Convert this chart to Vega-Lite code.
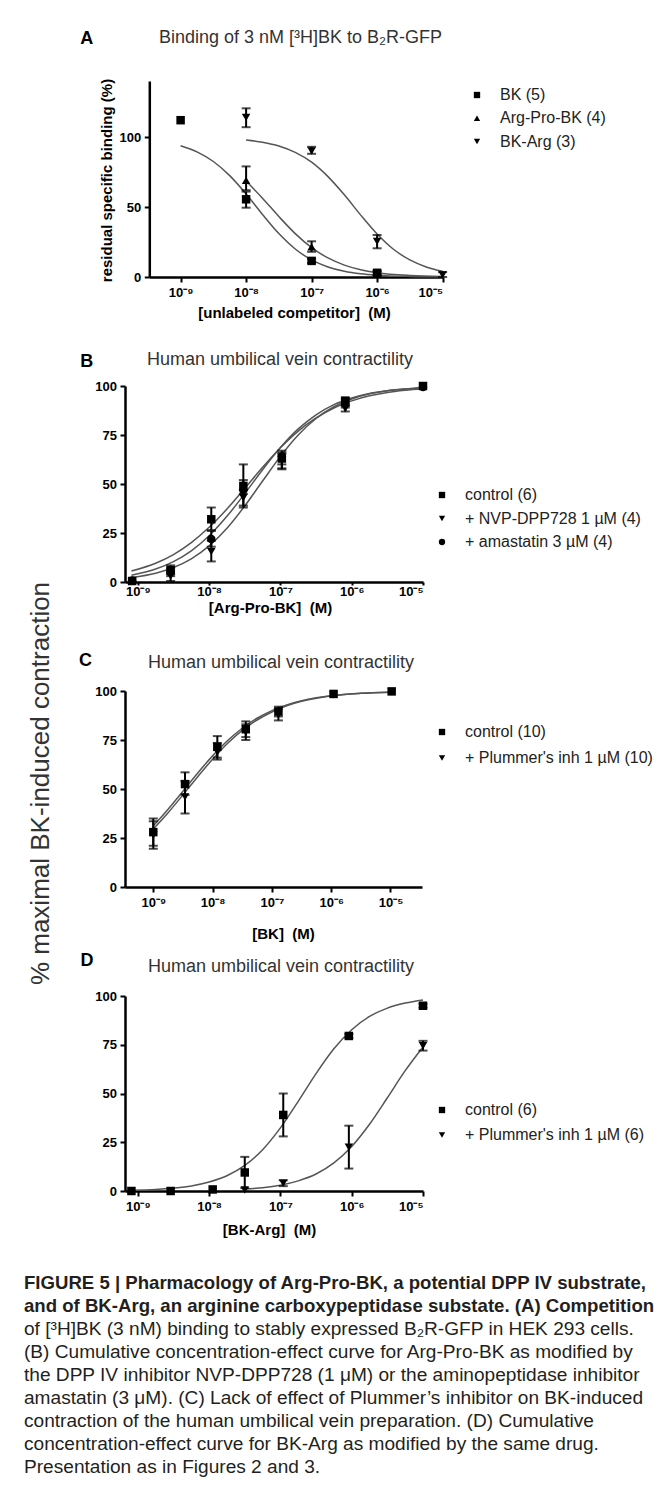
{
  "$schema": "https://vega.github.io/schema/vega-lite/v6.json",
  "background": "white",
  "padding": {"left": 24, "top": 29, "right": 5, "bottom": 5},
  "bounds": "flush",
  "spacing": 109,
  "resolve": {"scale": {"shape": "independent"}, "legend": {"shape": "independent"}},
  "config": {
    "font": "Liberation Sans",
    "view": {"stroke": null},
    "axis": {"grid": false, "labelOverlap": false, "domainColor": "black", "domainWidth": 2.5, "tickColor": "black", "tickWidth": 2, "tickSize": 5, "labelFont": "Liberation Sans", "labelFontWeight": "bold", "labelFontSize": 13, "labelColor": "black", "labelPadding": 3.5, "titleFont": "Liberation Sans", "titleFontWeight": "bold", "titleFontSize": 15, "titleColor": "black"},
    "axisX": {"tickSize": 5, "labelPadding": 4.5, "titleBaseline": "middle"},
    "legend": {"orient": "none", "title": null, "labelFont": "Liberation Sans", "labelFontSize": 16, "labelColor": "#222", "labelLimit": 400, "symbolSize": 40, "symbolFillColor": "black", "symbolStrokeWidth": 0, "labelOffset": 15, "rowPadding": 7.5},
    "title": {"anchor": "start", "frame": "group", "font": "Liberation Sans", "fontSize": 18, "fontWeight": "normal", "color": "#333"}
  },
  "title": {
    "text": ["FIGURE 5 | Pharmacology of Arg-Pro-BK, a potential DPP IV substrate,", "and of BK-Arg, an arginine carboxypeptidase substate. (A) Competition"],
    "subtitle": ["of [³H]BK (3 nM) binding to stably expressed B₂R-GFP in HEK 293 cells.", "(B) Cumulative concentration-effect curve for Arg-Pro-BK as modified by", "the DPP IV inhibitor NVP-DPP728 (1 μM) or the aminopeptidase inhibitor", "amastatin (3 μM). (C) Lack of effect of Plummer’s inhibitor on BK-induced", "contraction of the human umbilical vein preparation. (D) Cumulative", "concentration-effect curve for BK-Arg as modified by the same drug.", "Presentation as in Figures 2 and 3."],
    "orient": "bottom", "anchor": "start", "frame": "bounds", "dx": -3, "offset": 37,
    "font": "Liberation Sans", "fontSize": 18.6, "fontWeight": "bold", "lineHeight": 23, "color": "#231f20",
    "subtitleFont": "Liberation Sans", "subtitleFontSize": 19.1, "subtitleFontWeight": "normal", "subtitleLineHeight": 23, "subtitleColor": "#231f20", "subtitlePadding": 4
  },
  "datasets": {
    "ptsA": [
      {"series": "BK (5)", "x": 1e-9, "y": 112},
      {"series": "BK (5)", "x": 1e-8, "y": 55.5, "lo": 49.5, "hi": 61},
      {"series": "BK (5)", "x": 1e-7, "y": 11.5, "lo": 10, "hi": 13},
      {"series": "BK (5)", "x": 1e-6, "y": 3, "lo": 1.5, "hi": 4.5},
      {"series": "Arg-Pro-BK (4)", "x": 1e-8, "y": 69, "lo": 62, "hi": 79},
      {"series": "Arg-Pro-BK (4)", "x": 1e-7, "y": 21.5, "lo": 18, "hi": 25.5},
      {"series": "Arg-Pro-BK (4)", "x": 1e-6, "y": 2.5, "lo": 1, "hi": 4},
      {"series": "BK-Arg (3)", "x": 1e-8, "y": 114, "lo": 107, "hi": 120.5},
      {"series": "BK-Arg (3)", "x": 1e-7, "y": 90, "lo": 88, "hi": 93},
      {"series": "BK-Arg (3)", "x": 1e-6, "y": 25.5, "lo": 20.5, "hi": 30},
      {"series": "BK-Arg (3)", "x": 1e-5, "y": 1.5, "lo": 0, "hi": 3.5}
    ],
    "curvesA": [
      {"series": "BK", "x": 1e-9, "y": 93.8}, {"series": "BK", "x": 1.778e-9, "y": 89.4}, {"series": "BK", "x": 3.162e-9, "y": 82.5}, {"series": "BK", "x": 5.623e-9, "y": 72.4}, {"series": "BK", "x": 1e-8, "y": 59.3}, {"series": "BK", "x": 1.778e-8, "y": 44.7}, {"series": "BK", "x": 3.162e-8, "y": 31.0}, {"series": "BK", "x": 5.623e-8, "y": 20.0}, {"series": "BK", "x": 1e-7, "y": 12.2}, {"series": "BK", "x": 1.778e-7, "y": 7.2}, {"series": "BK", "x": 3.162e-7, "y": 4.1}, {"series": "BK", "x": 5.623e-7, "y": 2.3}, {"series": "BK", "x": 1e-6, "y": 1.3}, {"series": "BK", "x": 3.162e-6, "y": 0.4}, {"series": "BK", "x": 1e-5, "y": 0.1},
      {"series": "APB", "x": 1e-8, "y": 68.5}, {"series": "APB", "x": 1.778e-8, "y": 56.3}, {"series": "APB", "x": 3.162e-8, "y": 43.2}, {"series": "APB", "x": 5.623e-8, "y": 31.0}, {"series": "APB", "x": 1e-7, "y": 21.0}, {"series": "APB", "x": 1.778e-7, "y": 13.6}, {"series": "APB", "x": 3.162e-7, "y": 8.5}, {"series": "APB", "x": 5.623e-7, "y": 5.2}, {"series": "APB", "x": 1e-6, "y": 3.1}, {"series": "APB", "x": 3.162e-6, "y": 1.1}, {"series": "APB", "x": 1e-5, "y": 0.4},
      {"series": "BKA", "x": 1e-8, "y": 97.9}, {"series": "BKA", "x": 1.778e-8, "y": 96.3}, {"series": "BKA", "x": 3.162e-8, "y": 93.6}, {"series": "BKA", "x": 5.623e-8, "y": 89.0}, {"series": "BKA", "x": 1e-7, "y": 82.0}, {"series": "BKA", "x": 1.778e-7, "y": 71.7}, {"series": "BKA", "x": 3.162e-7, "y": 58.7}, {"series": "BKA", "x": 5.623e-7, "y": 44.2}, {"series": "BKA", "x": 1e-6, "y": 30.7}, {"series": "BKA", "x": 1.778e-6, "y": 19.8}, {"series": "BKA", "x": 3.162e-6, "y": 12.2}, {"series": "BKA", "x": 5.623e-6, "y": 7.2}, {"series": "BKA", "x": 1e-5, "y": 4.1}
    ],
    "ptsB": [
      {"series": "control  (6)", "x": 8.318e-10, "y": 0.5},
      {"series": "control  (6)", "x": 2.884e-9, "y": 6, "lo": 4, "hi": 8.5},
      {"series": "control  (6)", "x": 1.072e-8, "y": 32, "lo": 26.5, "hi": 38},
      {"series": "control  (6)", "x": 3.02e-8, "y": 49, "lo": 45, "hi": 52},
      {"series": "control  (6)", "x": 1.047e-7, "y": 63, "lo": 58, "hi": 66},
      {"series": "control  (6)", "x": 8.128e-7, "y": 92.5, "lo": 90, "hi": 94},
      {"series": "control  (6)", "x": 1e-5, "y": 100},
      {"series": "+ NVP-DPP728 1 µM (4)", "x": 8.318e-10, "y": 0.3},
      {"series": "+ NVP-DPP728 1 µM (4)", "x": 2.884e-9, "y": 3, "lo": 0.5, "hi": 5.5},
      {"series": "+ NVP-DPP728 1 µM (4)", "x": 1.072e-8, "y": 15.5, "lo": 10.5, "hi": 21},
      {"series": "+ NVP-DPP728 1 µM (4)", "x": 3.02e-8, "y": 43, "lo": 39, "hi": 47},
      {"series": "+ NVP-DPP728 1 µM (4)", "x": 1.047e-7, "y": 62, "lo": 57.5, "hi": 65.5},
      {"series": "+ NVP-DPP728 1 µM (4)", "x": 8.128e-7, "y": 88.5, "lo": 87, "hi": 90},
      {"series": "+ NVP-DPP728 1 µM (4)", "x": 1e-5, "y": 100},
      {"series": "+ amastatin 3 µM (4)", "x": 8.318e-10, "y": 0.8},
      {"series": "+ amastatin 3 µM (4)", "x": 2.884e-9, "y": 5, "lo": 3, "hi": 7},
      {"series": "+ amastatin 3 µM (4)", "x": 1.072e-8, "y": 22, "lo": 18, "hi": 26},
      {"series": "+ amastatin 3 µM (4)", "x": 3.02e-8, "y": 47, "lo": 38, "hi": 60},
      {"series": "+ amastatin 3 µM (4)", "x": 1.047e-7, "y": 64, "lo": 60, "hi": 67},
      {"series": "+ amastatin 3 µM (4)", "x": 8.128e-7, "y": 91, "lo": 89, "hi": 93},
      {"series": "+ amastatin 3 µM (4)", "x": 1e-5, "y": 99.5}
    ],
    "curvesB": [
      {"series": "c", "x": 8.128e-10, "y": 5.6}, {"series": "c", "x": 1.778e-9, "y": 9.6}, {"series": "c", "x": 3.162e-9, "y": 14.0}, {"series": "c", "x": 5.623e-9, "y": 20.1}, {"series": "c", "x": 1e-8, "y": 27.9}, {"series": "c", "x": 1.778e-8, "y": 37.3}, {"series": "c", "x": 3.162e-8, "y": 47.8}, {"series": "c", "x": 5.623e-8, "y": 58.5}, {"series": "c", "x": 1e-7, "y": 68.5}, {"series": "c", "x": 1.778e-7, "y": 77.0}, {"series": "c", "x": 3.162e-7, "y": 83.7}, {"series": "c", "x": 5.623e-7, "y": 88.8}, {"series": "c", "x": 1e-6, "y": 92.4}, {"series": "c", "x": 1.778e-6, "y": 95.0}, {"series": "c", "x": 3.162e-6, "y": 96.7}, {"series": "c", "x": 5.623e-6, "y": 97.8}, {"series": "c", "x": 1e-5, "y": 98.6},
      {"series": "a", "x": 8.128e-10, "y": 3.5}, {"series": "a", "x": 1.778e-9, "y": 6.6}, {"series": "a", "x": 3.162e-9, "y": 10.4}, {"series": "a", "x": 5.623e-9, "y": 15.9}, {"series": "a", "x": 1e-8, "y": 23.6}, {"series": "a", "x": 1.778e-8, "y": 33.5}, {"series": "a", "x": 3.162e-8, "y": 45.1}, {"series": "a", "x": 5.623e-8, "y": 57.3}, {"series": "a", "x": 1e-7, "y": 68.6}, {"series": "a", "x": 1.778e-7, "y": 78.1}, {"series": "a", "x": 3.162e-7, "y": 85.3}, {"series": "a", "x": 5.623e-7, "y": 90.5}, {"series": "a", "x": 1e-6, "y": 93.9}, {"series": "a", "x": 1.778e-6, "y": 96.2}, {"series": "a", "x": 3.162e-6, "y": 97.6}, {"series": "a", "x": 5.623e-6, "y": 98.5}, {"series": "a", "x": 1e-5, "y": 99.1},
      {"series": "n", "x": 8.128e-10, "y": 2.3}, {"series": "n", "x": 1.778e-9, "y": 4.5}, {"series": "n", "x": 3.162e-9, "y": 7.4}, {"series": "n", "x": 5.623e-9, "y": 11.8}, {"series": "n", "x": 1e-8, "y": 18.4}, {"series": "n", "x": 1.778e-8, "y": 27.4}, {"series": "n", "x": 3.162e-8, "y": 38.8}, {"series": "n", "x": 5.623e-8, "y": 51.5}, {"series": "n", "x": 1e-7, "y": 64.1}, {"series": "n", "x": 1.778e-7, "y": 75.0}, {"series": "n", "x": 3.162e-7, "y": 83.4}, {"series": "n", "x": 5.623e-7, "y": 89.4}, {"series": "n", "x": 1e-6, "y": 93.4}, {"series": "n", "x": 1.778e-6, "y": 96.0}, {"series": "n", "x": 3.162e-6, "y": 97.6}, {"series": "n", "x": 5.623e-6, "y": 98.5}, {"series": "n", "x": 1e-5, "y": 99.1}
    ],
    "ptsC": [
      {"series": "control  (10)", "x": 1e-9, "y": 28, "lo": 21, "hi": 35},
      {"series": "control  (10)", "x": 3.428e-9, "y": 52.5, "lo": 47, "hi": 58.5},
      {"series": "control  (10)", "x": 1.202e-8, "y": 71.5, "lo": 66, "hi": 77},
      {"series": "control  (10)", "x": 3.631e-8, "y": 80.5, "lo": 76.5, "hi": 84.5},
      {"series": "control  (10)", "x": 1.288e-7, "y": 89.5, "lo": 87, "hi": 92},
      {"series": "control  (10)", "x": 1.096e-6, "y": 98.5},
      {"series": "control  (10)", "x": 1.047e-5, "y": 99.8},
      {"series": "+ Plummer's inh 1 µM (10)", "x": 1e-9, "y": 26.5, "lo": 19.5, "hi": 33.5},
      {"series": "+ Plummer's inh 1 µM (10)", "x": 3.428e-9, "y": 46, "lo": 37.5, "hi": 54},
      {"series": "+ Plummer's inh 1 µM (10)", "x": 1.202e-8, "y": 69, "lo": 65, "hi": 73.5},
      {"series": "+ Plummer's inh 1 µM (10)", "x": 3.631e-8, "y": 79, "lo": 75, "hi": 83},
      {"series": "+ Plummer's inh 1 µM (10)", "x": 1.288e-7, "y": 88, "lo": 85, "hi": 91},
      {"series": "+ Plummer's inh 1 µM (10)", "x": 1.096e-6, "y": 98},
      {"series": "+ Plummer's inh 1 µM (10)", "x": 1.047e-5, "y": 99.6}
    ],
    "curvesC": [
      {"series": "c", "x": 1e-9, "y": 31.2}, {"series": "c", "x": 1.778e-9, "y": 39.7}, {"series": "c", "x": 3.162e-9, "y": 48.9}, {"series": "c", "x": 5.623e-9, "y": 58.2}, {"series": "c", "x": 1e-8, "y": 66.9}, {"series": "c", "x": 1.778e-8, "y": 74.6}, {"series": "c", "x": 3.162e-8, "y": 81.0}, {"series": "c", "x": 5.623e-8, "y": 86.1}, {"series": "c", "x": 1e-7, "y": 90.0}, {"series": "c", "x": 1.778e-7, "y": 92.9}, {"series": "c", "x": 3.162e-7, "y": 95.0}, {"series": "c", "x": 5.623e-7, "y": 96.5}, {"series": "c", "x": 1e-6, "y": 97.6}, {"series": "c", "x": 3.162e-6, "y": 98.8}, {"series": "c", "x": 1e-5, "y": 99.4},
      {"series": "p", "x": 1e-9, "y": 29.6}, {"series": "p", "x": 1.778e-9, "y": 37.9}, {"series": "p", "x": 3.162e-9, "y": 47.0}, {"series": "p", "x": 5.623e-9, "y": 56.3}, {"series": "p", "x": 1e-8, "y": 65.2}, {"series": "p", "x": 1.778e-8, "y": 73.2}, {"series": "p", "x": 3.162e-8, "y": 79.9}, {"series": "p", "x": 5.623e-8, "y": 85.2}, {"series": "p", "x": 1e-7, "y": 89.3}, {"series": "p", "x": 1.778e-7, "y": 92.4}, {"series": "p", "x": 3.162e-7, "y": 94.7}, {"series": "p", "x": 5.623e-7, "y": 96.3}, {"series": "p", "x": 1e-6, "y": 97.4}, {"series": "p", "x": 3.162e-6, "y": 98.8}, {"series": "p", "x": 1e-5, "y": 99.4}
    ],
    "ptsD": [
      {"series": "control  (6)", "x": 8.128e-10, "y": 0},
      {"series": "control  (6)", "x": 2.884e-9, "y": 0},
      {"series": "control  (6)", "x": 1.122e-8, "y": 0.8},
      {"series": "control  (6)", "x": 3.162e-8, "y": 9.5, "lo": 1.5, "hi": 17.5},
      {"series": "control  (6)", "x": 1.096e-7, "y": 39, "lo": 28, "hi": 50},
      {"series": "control  (6)", "x": 9.12e-7, "y": 79.5, "lo": 78.5, "hi": 80.5},
      {"series": "control  (6)", "x": 1e-5, "y": 95, "lo": 94, "hi": 96},
      {"series": "+ Plummer's inh 1 µM (6)", "x": 3.162e-8, "y": 0.5},
      {"series": "+ Plummer's inh 1 µM (6)", "x": 1.096e-7, "y": 4, "lo": 2.5, "hi": 5.5},
      {"series": "+ Plummer's inh 1 µM (6)", "x": 9.12e-7, "y": 22.5, "lo": 11.5, "hi": 33.5},
      {"series": "+ Plummer's inh 1 µM (6)", "x": 1e-5, "y": 74.5, "lo": 72, "hi": 77}
    ],
    "curvesD": [
      {"series": "c", "x": 8.128e-10, "y": 0.4}, {"series": "c", "x": 1.778e-9, "y": 0.8}, {"series": "c", "x": 3.162e-9, "y": 1.5}, {"series": "c", "x": 5.623e-9, "y": 2.6}, {"series": "c", "x": 1e-8, "y": 4.6}, {"series": "c", "x": 1.778e-8, "y": 7.8}, {"series": "c", "x": 3.162e-8, "y": 13.1}, {"series": "c", "x": 5.623e-8, "y": 21.2}, {"series": "c", "x": 1e-7, "y": 32.4}, {"series": "c", "x": 1.778e-7, "y": 46.0}, {"series": "c", "x": 3.162e-7, "y": 60.2}, {"series": "c", "x": 5.623e-7, "y": 72.9}, {"series": "c", "x": 1e-6, "y": 82.7}, {"series": "c", "x": 1.778e-6, "y": 89.5}, {"series": "c", "x": 3.162e-6, "y": 93.8}, {"series": "c", "x": 5.623e-6, "y": 96.4}, {"series": "c", "x": 1e-5, "y": 98.0},
      {"series": "p", "x": 3.162e-8, "y": 1.0}, {"series": "p", "x": 5.623e-8, "y": 1.7}, {"series": "p", "x": 1e-7, "y": 3.0}, {"series": "p", "x": 1.778e-7, "y": 5.2}, {"series": "p", "x": 3.162e-7, "y": 8.7}, {"series": "p", "x": 5.623e-7, "y": 14.4}, {"series": "p", "x": 1e-6, "y": 22.8}, {"series": "p", "x": 1.778e-6, "y": 34.2}, {"series": "p", "x": 3.162e-6, "y": 47.8}, {"series": "p", "x": 5.623e-6, "y": 61.7}, {"series": "p", "x": 1e-5, "y": 73.9}
    ]
  },
  "vconcat": [
    {
      "width": 318, "height": 196,
      "title": {"text": "Binding of 3 nM [³H]BK to B₂R-GFP", "dx": 34, "offset": -18},
      "resolve": {"axis": {"x": "independent"}},
      "layer": [
        {"data": {"name": "curvesA"}, "mark": {"type": "line", "color": "#555", "strokeWidth": 1.5, "interpolate": "monotone"},
         "encoding": {
           "x": {"field": "x", "type": "quantitative", "title": "[unlabeled competitor]\u00a0 (M)", "scale": {"type": "log", "domain": [3.326e-10, 1e-5], "range": [24.3, 317.6], "nice": false},
                 "axis": {"values": [1e-9, 1e-8, 1e-7, 1e-6, 1e-5], "labelExpr": "'10' + ['⁻⁹','⁻⁸','⁻⁷','⁻⁶','⁻⁵'][round(log(datum.value)/LN10)+9]", "titleY": 35, "titleX": 169}},
           "y": {"field": "y", "type": "quantitative", "title": "residual specific binding (%)", "scale": {"domain": [0, 140], "nice": false},
                 "axis": {"values": [0, 25, 50, 75, 100, 125], "offset": -24.3, "titleX": -43, "titleY": 99, "titleBaseline": "middle"}},
           "detail": {"field": "series"}}},
        {"data": {"name": "ptsA"}, "transform": [{"filter": "isValid(datum.lo)"}], "mark": {"type": "rule", "strokeWidth": 2, "color": "black"},
         "encoding": {"x": {"field": "x", "type": "quantitative", "axis": null}, "y": {"field": "lo", "type": "quantitative", "title": "residual specific binding (%)"}, "y2": {"field": "hi"}}},
        {"data": {"name": "ptsA"}, "transform": [{"filter": "isValid(datum.lo)"}, {"fold": ["lo", "hi"], "as": ["end", "v"]}], "mark": {"type": "tick", "orient": "horizontal", "size": 9, "thickness": 2, "color": "black"},
         "encoding": {"x": {"field": "x", "type": "quantitative", "title": "A", "axis": {"orient": "top", "domain": false, "ticks": false, "labels": false, "titleX": -38.7, "titleY": -43, "titleAlign": "center", "titleBaseline": "middle", "titleAngle": 0, "titleFontSize": 18, "titleFontWeight": "bold", "titleColor": "black"}}, "y": {"field": "v", "type": "quantitative", "title": "residual specific binding (%)"}}},
        {"data": {"name": "ptsA"}, "mark": {"type": "point", "filled": true, "size": 72, "opacity": 1, "color": "black"},
         "encoding": {"x": {"field": "x", "type": "quantitative", "axis": null}, "y": {"field": "y", "type": "quantitative", "title": "residual specific binding (%)"},
           "shape": {"field": "series", "type": "nominal", "scale": {"domain": ["BK (5)", "Arg-Pro-BK (4)", "BK-Arg (3)"], "range": ["square", "triangle-up", "triangle-down"]}, "legend": {"legendX": 344, "legendY": 6, "rowPadding": 7.3}}}}
      ]
    },
    {
      "width": 298, "height": 196,
      "title": {"text": "Human umbilical vein contractility", "dx": 22, "offset": -16.3},
      "resolve": {"axis": {"x": "independent"}},
      "layer": [
        {"data": {"name": "curvesB"}, "mark": {"type": "line", "color": "#555", "strokeWidth": 1.5, "interpolate": "monotone"},
         "encoding": {
           "x": {"field": "x", "type": "quantitative", "title": "[Arg-Pro-BK]\u00a0 (M)", "scale": {"type": "log", "domain": [6.607e-10, 1e-5], "nice": false},
                 "axis": {"values": [1e-9, 1e-8, 1e-7, 1e-6, 1e-5], "labelExpr": "'10' + ['⁻⁹','⁻⁸','⁻⁷','⁻⁶','⁻⁵'][round(log(datum.value)/LN10)+9]", "tickSize": 3, "labelPadding": 0.5, "titleY": 25.5, "titleX": 145}},
           "y": {"field": "y", "type": "quantitative", "title": "% maximal BK-induced contraction", "scale": {"domain": [0, 100], "nice": false},
                 "axis": {"values": [0, 25, 50, 75, 100], "titleFontSize": 26, "titleFontWeight": "normal", "titleColor": "#333", "titleX": -77, "titleY": 397, "titleBaseline": "alphabetic", "titleAlign": "center", "titleAngle": 270}},
           "detail": {"field": "series"}}},
        {"data": {"name": "ptsB"}, "transform": [{"filter": "isValid(datum.lo)"}], "mark": {"type": "rule", "strokeWidth": 2, "color": "black"},
         "encoding": {"x": {"field": "x", "type": "quantitative", "axis": null}, "y": {"field": "lo", "type": "quantitative", "title": "% maximal BK-induced contraction"}, "y2": {"field": "hi"}}},
        {"data": {"name": "ptsB"}, "transform": [{"filter": "isValid(datum.lo)"}, {"fold": ["lo", "hi"], "as": ["end", "v"]}], "mark": {"type": "tick", "orient": "horizontal", "size": 9, "thickness": 2, "color": "black"},
         "encoding": {"x": {"field": "x", "type": "quantitative", "title": "B", "axis": {"orient": "top", "domain": false, "ticks": false, "labels": false, "titleX": -38.7, "titleY": -24.3, "titleAlign": "center", "titleBaseline": "middle", "titleAngle": 0, "titleFontSize": 18, "titleFontWeight": "bold", "titleColor": "black"}}, "y": {"field": "v", "type": "quantitative", "title": "% maximal BK-induced contraction"}}},
        {"data": {"name": "ptsB"}, "mark": {"type": "point", "filled": true, "size": 72, "opacity": 1, "color": "black"},
         "encoding": {"x": {"field": "x", "type": "quantitative", "axis": null}, "y": {"field": "y", "type": "quantitative", "title": "% maximal BK-induced contraction"},
           "shape": {"field": "series", "type": "nominal", "scale": {"domain": ["control  (6)", "+ NVP-DPP728 1 µM (4)", "+ amastatin 3 µM (4)"], "range": ["square", "triangle-down", "circle"]}, "legend": {"legendX": 309, "legendY": 101, "rowPadding": 7.5}}}}
      ]
    },
    {
      "width": 297, "height": 196,
      "title": {"text": "Human umbilical vein contractility", "dx": 23, "offset": -21},
      "resolve": {"axis": {"x": "independent"}},
      "layer": [
        {"data": {"name": "curvesC"}, "mark": {"type": "line", "color": "#555", "strokeWidth": 1.5, "interpolate": "monotone"},
         "encoding": {
           "x": {"field": "x", "type": "quantitative", "title": "[BK]\u00a0 (M)", "scale": {"type": "log", "domain": [3.334e-10, 3.4e-5], "nice": false},
                 "axis": {"values": [1e-9, 1e-8, 1e-7, 1e-6, 1e-5], "labelExpr": "'10' + ['⁻⁹','⁻⁸','⁻⁷','⁻⁶','⁻⁵'][round(log(datum.value)/LN10)+9]", "titleY": 46, "titleX": 158}},
           "y": {"field": "y", "type": "quantitative", "title": null, "scale": {"domain": [0, 100], "nice": false},
                 "axis": {"values": [0, 25, 50, 75, 100]}},
           "detail": {"field": "series"}}},
        {"data": {"name": "ptsC"}, "transform": [{"filter": "isValid(datum.lo)"}], "mark": {"type": "rule", "strokeWidth": 2, "color": "black"},
         "encoding": {"x": {"field": "x", "type": "quantitative", "axis": null}, "y": {"field": "lo", "type": "quantitative", "title": null}, "y2": {"field": "hi"}}},
        {"data": {"name": "ptsC"}, "transform": [{"filter": "isValid(datum.lo)"}, {"fold": ["lo", "hi"], "as": ["end", "v"]}], "mark": {"type": "tick", "orient": "horizontal", "size": 9, "thickness": 2, "color": "black"},
         "encoding": {"x": {"field": "x", "type": "quantitative", "title": "C", "axis": {"orient": "top", "domain": false, "ticks": false, "labels": false, "titleX": -40, "titleY": -31, "titleAlign": "center", "titleBaseline": "middle", "titleAngle": 0, "titleFontSize": 18, "titleFontWeight": "bold", "titleColor": "black"}}, "y": {"field": "v", "type": "quantitative", "title": null}}},
        {"data": {"name": "ptsC"}, "mark": {"type": "point", "filled": true, "size": 72, "opacity": 1, "color": "black"},
         "encoding": {"x": {"field": "x", "type": "quantitative", "axis": null}, "y": {"field": "y", "type": "quantitative", "title": null},
           "shape": {"field": "series", "type": "nominal", "scale": {"domain": ["control  (10)", "+ Plummer's inh 1 µM (10)"], "range": ["square", "triangle-down"]}, "legend": {"legendX": 309, "legendY": 33, "rowPadding": 10}}}}
      ]
    },
    {
      "width": 298, "height": 195,
      "title": {"text": "Human umbilical vein contractility", "dx": 23, "offset": -24.7},
      "resolve": {"axis": {"x": "independent"}},
      "layer": [
        {"data": {"name": "curvesD"}, "mark": {"type": "line", "color": "#555", "strokeWidth": 1.5, "interpolate": "monotone"},
         "encoding": {
           "x": {"field": "x", "type": "quantitative", "title": "[BK-Arg]\u00a0 (M)", "scale": {"type": "log", "domain": [6.607e-10, 1e-5], "nice": false},
                 "axis": {"values": [1e-9, 1e-8, 1e-7, 1e-6, 1e-5], "labelExpr": "'10' + ['⁻⁹','⁻⁸','⁻⁷','⁻⁶','⁻⁵'][round(log(datum.value)/LN10)+9]", "titleY": 38, "titleX": 144}},
           "y": {"field": "y", "type": "quantitative", "title": null, "scale": {"domain": [0, 100], "nice": false},
                 "axis": {"values": [0, 25, 50, 75, 100]}},
           "detail": {"field": "series"}}},
        {"data": {"name": "ptsD"}, "transform": [{"filter": "isValid(datum.lo)"}], "mark": {"type": "rule", "strokeWidth": 2, "color": "black"},
         "encoding": {"x": {"field": "x", "type": "quantitative", "axis": null}, "y": {"field": "lo", "type": "quantitative", "title": null}, "y2": {"field": "hi"}}},
        {"data": {"name": "ptsD"}, "transform": [{"filter": "isValid(datum.lo)"}, {"fold": ["lo", "hi"], "as": ["end", "v"]}], "mark": {"type": "tick", "orient": "horizontal", "size": 9, "thickness": 2, "color": "black"},
         "encoding": {"x": {"field": "x", "type": "quantitative", "title": "D", "axis": {"orient": "top", "domain": false, "ticks": false, "labels": false, "titleX": -38.4, "titleY": -36, "titleAlign": "center", "titleBaseline": "middle", "titleAngle": 0, "titleFontSize": 18, "titleFontWeight": "bold", "titleColor": "black"}}, "y": {"field": "v", "type": "quantitative", "title": null}}},
        {"data": {"name": "ptsD"}, "mark": {"type": "point", "filled": true, "size": 72, "opacity": 1, "color": "black"},
         "encoding": {"x": {"field": "x", "type": "quantitative", "axis": null}, "y": {"field": "y", "type": "quantitative", "title": null},
           "shape": {"field": "series", "type": "nominal", "scale": {"domain": ["control  (6)", "+ Plummer's inh 1 µM (6)"], "range": ["square", "triangle-down"]}, "legend": {"legendX": 309, "legendY": 106, "rowPadding": 9}}}}
      ]
    }
  ]
}
